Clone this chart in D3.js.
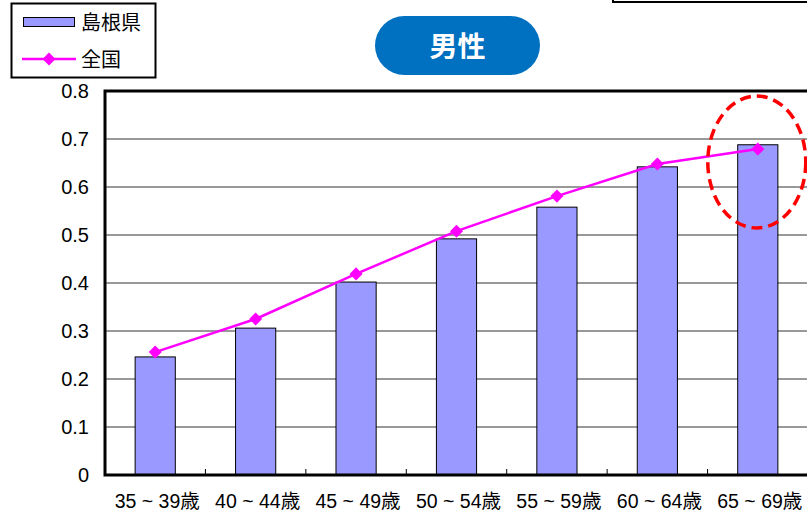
<!DOCTYPE html>
<html><head><meta charset="utf-8">
<script src="https://cdn.jsdelivr.net/npm/d3@7"></script>
<style>body{margin:0;background:#fff}svg{display:block}</style>
</head><body>
<svg id="c" width="807" height="516"></svg>
<script>
const categories = ["35 ~ 39歳","40 ~ 44歳","45 ~ 49歳","50 ~ 54歳","55 ~ 59歳","60 ~ 64歳","65 ~ 69歳"];
const shimane = [0.246,0.306,0.402,0.492,0.558,0.642,0.688];
const national = [0.256,0.325,0.419,0.508,0.581,0.648,0.679];
const yTicks = [0,0.1,0.2,0.3,0.4,0.5,0.6,0.7,0.8];
const seriesNames = ["島根県","全国"];
const title = "男性";

const svg = d3.select("#c");
const font = "Arial, 'Liberation Sans', 'Noto Sans CJK JP', sans-serif";
const L=105, R=808, T=91, B=475;
const x = d3.scaleBand().domain(categories).range([L,R]).paddingInner(0.6).paddingOuter(0.3);
const xb = d3.scaleBand().domain(categories).range([L,R]);
const y = d3.scaleLinear().domain([0,0.8]).range([B,T]);

// top-right box remnant
svg.append("rect").attr("x",613).attr("y",-10).attr("width",200).attr("height",12)
  .attr("fill","none").attr("stroke","#000").attr("stroke-width",2);

// gridlines
svg.append("g").selectAll("line").data(yTicks.filter(d=>d>0&&d<0.8)).join("line")
  .attr("x1",L).attr("x2",R).attr("y1",d=>y(d)).attr("y2",d=>y(d))
  .attr("stroke","#333").attr("stroke-width",1);

// bars
svg.append("g").selectAll("rect").data(categories).join("rect")
  .attr("x",d=>x(d)).attr("width",x.bandwidth())
  .attr("y",(d,i)=>y(shimane[i])).attr("height",(d,i)=>B-y(shimane[i]))
  .attr("fill","#9999FF").attr("stroke","#000").attr("stroke-width",1);

// x-axis ticks between categories
svg.append("g").selectAll("line").data(categories.slice(1)).join("line")
  .attr("x1",d=>xb(d)).attr("x2",d=>xb(d)).attr("y1",B).attr("y2",B-6)
  .attr("stroke","#000").attr("stroke-width",1);

// frame
svg.append("path").attr("d",`M${R},${T}H${L}V${B}H${R}`)
  .attr("fill","none").attr("stroke","#000").attr("stroke-width",3);

// y labels
svg.append("g").selectAll("text").data(yTicks).join("text")
  .attr("x",89).attr("y",d=>y(d)).attr("dy","0.35em").attr("text-anchor","end")
  .attr("font-family",font).attr("font-size",20).text(d=>d===0?"0":d.toFixed(1));

// x labels
svg.append("g").selectAll("text").data(categories).join("text")
  .attr("x",d=>xb(d)+xb.bandwidth()/2+2).attr("y",501).attr("dy","0.35em").attr("text-anchor","middle")
  .attr("font-family",font).attr("font-size",19.5).text(d=>d);

// line
const cx = d=>x(d)+x.bandwidth()/2;
svg.append("path").datum(categories)
  .attr("d",d3.line().x(d=>cx(d)).y((d,i)=>y(national[i])))
  .attr("fill","none").attr("stroke","#FF00FF").attr("stroke-width",2.5);
svg.append("g").selectAll("path").data(categories).join("path")
  .attr("transform",(d,i)=>`translate(${cx(d)},${y(national[i])}) rotate(45)`)
  .attr("d",d3.symbol().type(d3.symbolSquare).size(85)).attr("fill","#FF00FF");

// highlight ellipse
svg.append("ellipse").attr("cx",cx(categories[6])-1).attr("cy",162).attr("rx",49).attr("ry",66)
  .attr("fill","none").attr("stroke","#FF0000").attr("stroke-width",3.5).attr("stroke-dasharray","11,6");

// title pill
svg.append("rect").attr("x",375).attr("y",16).attr("width",165).attr("height",59).attr("rx",29.5)
  .attr("fill","#0070C0");
svg.append("text").attr("x",457.5).attr("y",47).attr("dy","0.35em").attr("text-anchor","middle")
  .attr("font-family","'Noto Sans CJK JP', sans-serif").attr("font-weight","bold").attr("font-size",28)
  .attr("fill","#fff").text(title);

// legend
const lg = svg.append("g");
lg.append("rect").attr("x",11.5).attr("y",3.5).attr("width",144).attr("height",74)
  .attr("fill","#fff").attr("stroke","#000").attr("stroke-width",2);
lg.append("rect").attr("x",23.5).attr("y",17.5).attr("width",51).attr("height",9)
  .attr("fill","#9999FF").attr("stroke","#000").attr("stroke-width",1);
lg.append("line").attr("x1",22).attr("x2",76).attr("y1",59).attr("y2",59)
  .attr("stroke","#FF00FF").attr("stroke-width",2.5);
lg.append("path").attr("transform","translate(49,59) rotate(45)")
  .attr("d",d3.symbol().type(d3.symbolSquare).size(85)).attr("fill","#FF00FF");
lg.selectAll("text").data(seriesNames).join("text")
  .attr("x",81).attr("y",(d,i)=>i?60:23).attr("dy","0.35em")
  .attr("font-family","'Noto Sans CJK JP', sans-serif").attr("font-size",20).text(d=>d);
</script>
</body></html>
